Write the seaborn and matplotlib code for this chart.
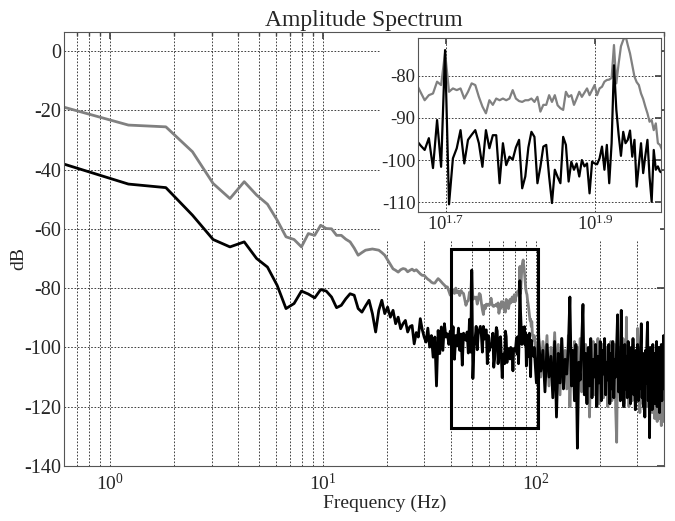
import numpy as np
import pandas as pd
import matplotlib
matplotlib.use('Agg')
import matplotlib.pyplot as plt
import seaborn as sns
from matplotlib.patches import Rectangle
from matplotlib.ticker import LogLocator, NullFormatter, NullLocator

# ==================== 数据 ====================
DF = 0.61  # 频率分辨率 (Hz)

# 低频段 bins 1..74
gray_low = [-19.0, -25.0, -25.6, -34.0, -44.7, -49.8, -44.1, -48.6, -51.7, -57.1,
            -62.7, -63.6, -66.1, -61.6, -62.2, -58.8, -59.9, -60.0, -62.2, -62.2,
            -63.5, -64.4, -66.5, -68.9, -68.0, -67.2, -67.0, -66.8, -67.0, -67.2,
            -68.0, -68.9, -70.5, -72.0, -73.5, -74.0, -74.6, -73.8, -73.4, -73.6,
            -74.5, -74.0, -73.6, -74.2, -73.8, -74.5, -75.2, -75.7, -75.7, -76.4,
            -77.0, -77.4, -78.0, -78.3, -78.3, -77.5, -76.8, -77.3, -77.9, -78.5,
            -79.0, -79.6, -79.6, -81.0, -82.4, -81.5, -80.5, -81.8, -80.0, -81.6,
            -81.0, -82.5, -80.8, -81.5]
black_low = [-38.2, -44.9, -46.1, -55.4, -63.6, -66.1, -64.4, -70.0, -72.9, -79.1,
             -86.9, -85.2, -81.0, -82.0, -83.3, -80.5, -81.0, -83.0, -86.6, -85.8,
             -83.6, -81.9, -82.4, -86.9, -88.1, -86.0, -84.1, -88.6, -94.8, -87.5,
             -84.1, -88.6, -86.4, -89.8, -87.5, -92.0, -89.8, -93.7, -92.0, -90.9,
             -94.8, -93.0, -92.6, -98.8, -95.0, -96.5, -90.3, -94.0, -96.5, -98.2,
             -93.5, -99.9, -96.0, -103.3, -96.5, -113.0, -94.3, -102.1, -93.1, -101.0,
             -92.0, -96.5, -95.4, -99.0, -94.5, -100.5, -93.0, -104.0, -96.0, -99.5,
             -93.5, -101.0, -95.5, -106.0]

# 放大区 bins 75..160
gray_zoom = [-81.8, -83.8, -85.8, -84.6, -84.2, -81.4, -82.2, -74.5, -83.8, -83.0,
             -83.4, -83.0, -85.4, -83.8, -81.8, -82.2, -85.0, -87.3, -88.9, -85.8,
             -86.9, -85.4, -85.8, -85.4, -85.8, -85.4, -83.4, -85.4, -86.0, -86.2,
             -85.8, -85.8, -85.4, -86.2, -85.0, -88.5, -86.9, -86.9, -84.6, -86.2,
             -84.6, -87.0, -87.7, -88.1, -83.8, -85.0, -84.6, -86.9, -85.4, -83.8,
             -85.0, -84.0, -83.0, -84.6, -83.4, -82.2, -84.6, -83.0, -82.6, -81.4,
             -81.0, -80.9, -80.5, -72.7, -81.8, -77.1, -73.0, -71.5, -70.5, -72.7,
             -74.7, -77.5, -80.2, -81.5, -82.2, -84.2, -85.5, -87.3, -88.9, -90.9,
             -90.5, -92.9, -91.3, -96.0, -96.4, -97.5]
black_zoom = [-95.2, -96.5, -97.6, -94.8, -101.9, -90.5, -101.6, -73.9, -110.5, -99.6,
              -97.2, -92.9, -100.8, -95.2, -94.0, -92.9, -96.0, -101.6, -92.9, -97.2,
              -94.1, -94.1, -105.5, -96.0, -101.2, -99.2, -99.9, -97.0, -95.2, -106.7,
              -103.9, -97.0, -93.3, -94.5, -105.5, -101.6, -96.8, -96.4, -103.9, -110.2,
              -102.3, -104.0, -105.5, -94.5, -96.4, -105.1, -100.4, -102.3, -100.8, -103.9,
              -100.0, -101.5, -100.8, -107.9, -100.4, -100.8, -101.0, -99.6, -96.8, -102.3,
              -96.4, -105.5, -96.0, -77.5, -88.0, -94.0, -99.0, -93.3, -96.0, -95.2,
              -93.0, -99.2, -95.2, -106.3, -101.0, -96.0, -103.1, -99.0, -95.2, -104.0,
              -109.9, -97.6, -102.3, -101.5, -102.7, -103.0]

# 高频段 bins 161..657 (每4个取一个)
gray_high = [-96, -104, -95, -110, -98, -106, -96, -113, -100, -108,
             -95, -112, -99, -116, -97, -109, -101, -114, -96, -120,
             -103, -111, -98, -117, -100, -108, -97, -115, -102, -110,
             -99, -118, -101, -123.5, -104, -109, -98, -116, -102, -112,
             -97, -119, -103, -110, -99, -117, -104, -113, -100, -120,
             -102, -111, -98, -118, -105, -112, -99, -121, -132, -103,
             -114, -100, -117, -104, -111, -97, -119, -103, -113, -89.8,
             -116, -102, -120, -100, -112, -104, -118, -99, -115, -106,
             -121, -101, -113, -93.6, -117, -104, -122, -100, -114, -106,
             -119, -102, -121, -105, -113, -101, -120, -107, -116, -103,
             -123, -106, -115, -102, -122, -108, -118, -104, -124, -107,
             -117, -103, -125, -109, -119, -105, -124, -110, -121, -126.4,
             -108, -123, -106, -125, -112]
black_high = [-100, -112, -97, -108, -101, -115, -99, -110, -103, -117,
              -98, -123.5, -102, -112, -97, -114, -104, -109, -100, -83,
              -113, -101, -118, -99, -134, -105, -111, -99, -85.5, -116,
              -102, -119, -100, -113, -97, -117, -104, -110, -99, -120,
              -103, -112, -98, -118, -101, -109, -97, -116, -105, -111,
              -99, -119, -102, -114, -98, -117, -104, -110, -100, -89,
              -115, -102, -118, -87.5, -112, -101, -120, -99, -114, -103,
              -117, -98, -111, -104, -119, -100, -113, -97, -116, -105,
              -121, -101, -110, -99, -118, -103, -114, -100, -92, -117,
              -102, -120, -104, -123.5, -101, -112, -98, -91.5, -118, -103,
              -130.5, -100, -115, -104, -121, -99, -113, -102, -119, -105,
              -111, -98, -120, -103, -116, -100, -122, -104, -112, -99,
              -118, -101, -114, -96, -108]

freq_low = DF * np.arange(1, 75)
freq_zoom = DF * np.arange(75, 161)
freq_high = DF * np.arange(161, 658, 4)

# 放大框 (Hz, dB)
box_f = (40, 102)
box_db = (-127.3, -66.7)

freq = np.concatenate([freq_low, freq_zoom, freq_high])
df = pd.concat([
    pd.DataFrame({'freq': freq, 'dB': gray_low + gray_zoom + gray_high, 'series': 'gray'}),
    pd.DataFrame({'freq': freq, 'dB': black_low + black_zoom + black_high, 'series': 'black'}),
], ignore_index=True)
pal = {'gray': '#808080', 'black': '#000000'}

# ==================== 样式 ====================
sns.set_theme(style='white')
plt.rcParams['font.family'] = ['Liberation Serif', 'DejaVu Serif']
plt.rcParams['mathtext.fontset'] = 'custom'
plt.rcParams['mathtext.rm'] = 'Liberation Serif'
plt.rcParams['mathtext.it'] = 'Liberation Serif:italic'
plt.rcParams['axes.unicode_minus'] = False

grid_kw = dict(color='#222222', linestyle=(0, (2, 2)), linewidth=0.6)

fig = plt.figure(figsize=(6.75, 5.21), dpi=100)

# ==================== 主图 ====================
ax = fig.add_axes([0.0948, 0.1056, 0.8889, 0.833])
sns.lineplot(data=df, x='freq', y='dB', hue='series', hue_order=['gray', 'black'],
             palette=pal, estimator=None, sort=False, linewidth=2.0,
             legend=False, ax=ax)
ax.set_xscale('log')
ax.set_xlim(0.608, 400)
ax.set_ylim(-140, 6.4)
ax.set_yticks(np.arange(-140, 1, 20))
ax.xaxis.set_major_locator(LogLocator(base=10, numticks=10))
ax.xaxis.set_minor_locator(LogLocator(base=10, subs=np.arange(2, 10), numticks=20))
ax.xaxis.set_minor_formatter(NullFormatter())
ax.grid(True, which='major', axis='both', **grid_kw)
ax.grid(True, which='minor', axis='x', **grid_kw)
ax.tick_params(axis='both', which='both', direction='in', top=True, right=True,
               color='#444444')
ax.tick_params(axis='both', which='major', length=5)
ax.tick_params(axis='both', which='minor', length=3)
ax.tick_params(axis='y', pad=2, labelsize=14.5)
ax.tick_params(axis='x', pad=5, labelsize=14)
for s in ax.spines.values():
    s.set_color('#555555')
    s.set_linewidth(0.8)

ax.set_title('Amplitude Spectrum', fontsize=17, pad=4)
ax.set_xlabel('Frequency (Hz)', fontsize=14)
ax.set_ylabel('dB', fontsize=14)
ax.xaxis.set_label_coords(0.535, -0.067)
ax.yaxis.set_label_coords(-0.062, 0.479)

ax.add_patch(Rectangle((box_f[0], box_db[0]), box_f[1] - box_f[0], box_db[1] - box_db[0],
                       fill=False, edgecolor='black', linewidth=2.2, zorder=3))
# 插图背景（遮住网格）
ax.add_patch(Rectangle((0.527, 0.518), 0.466, 0.482, transform=ax.transAxes,
                       facecolor='white', edgecolor='none', zorder=2.1))

# ==================== 插图 ====================
axin = fig.add_axes([0.6188, 0.5925, 0.3604, 0.334])
sns.lineplot(data=df, x='freq', y='dB', hue='series', hue_order=['gray', 'black'],
             palette=pal, estimator=None, sort=False, linewidth=1.6,
             legend=False, ax=axin)
axin.set_xscale('log')
axin.set_xlim(45.97, 97.3)
axin.set_ylim(-112.4, -71.1)
axin.set_xticks([10 ** 1.7, 10 ** 1.9],
                labels=[r'$\mathdefault{10^{1.7}}$', r'$\mathdefault{10^{1.9}}$'])
axin.xaxis.set_minor_locator(NullLocator())
axin.set_yticks([-110, -100, -90, -80])
axin.grid(True, which='major', **grid_kw)
axin.tick_params(axis='both', which='major', direction='in', length=4,
                 labelsize=13.5, pad=1.5, color='#444444', top=True, right=True)
axin.set_xlabel('')
axin.set_ylabel('')
for s in axin.spines.values():
    s.set_color('#555555')
    s.set_linewidth(0.8)

fig.savefig('out.png', dpi=100)
